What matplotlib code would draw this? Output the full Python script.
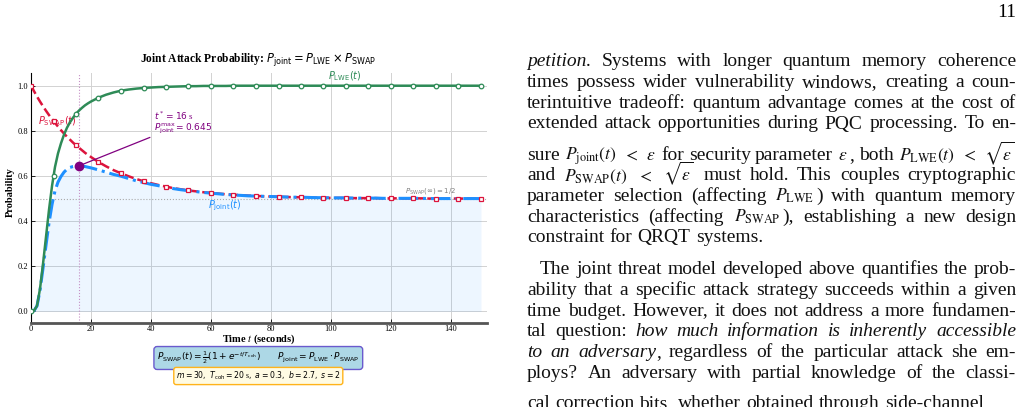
import re
import statistics
import matplotlib
matplotlib.use("Agg")
import matplotlib.pyplot as plt

# ---------------- data ----------------
t = [0, 1, 2, 3, 4, 5, 6, 7, 7.5, 8, 9, 10, 11, 12, 13, 14, 15, 16, 17, 18, 19, 20,
     22.5, 25, 27.5, 30, 32.5, 35, 37.5, 40, 42.5, 45, 47.5, 50, 52.5, 55, 57.5, 60,
     62.5, 65, 67.5, 70, 72.5, 75, 77.5, 80, 82.5, 85, 87.5, 90, 92.5, 95, 97.5, 100,
     102.5, 105, 107.5, 110, 112.5, 115, 117.5, 120, 122.5, 125, 127.5, 130, 132.5,
     135, 137.5, 140, 142.5, 145, 147.5, 150]

p_lwe = [0.0, 0.003, 0.025, 0.10, 0.21, 0.33, 0.45, 0.555, 0.598, 0.64, 0.70, 0.745,
         0.783, 0.814, 0.838, 0.858, 0.875, 0.89, 0.902, 0.913, 0.922, 0.93,
         0.947, 0.96, 0.97, 0.978, 0.983, 0.987, 0.990, 0.992, 0.994, 0.995, 0.996,
         0.997, 0.998, 0.998, 0.999, 0.999, 0.999, 0.999, 1.0, 1.0, 1.0, 1.0, 1.0, 1.0,
         1.0, 1.0, 1.0, 1.0, 1.0, 1.0, 1.0, 1.0, 1.0, 1.0, 1.0, 1.0, 1.0, 1.0, 1.0, 1.0,
         1.0, 1.0, 1.0, 1.0, 1.0, 1.0, 1.0, 1.0, 1.0, 1.0, 1.0, 1.0]

p_swap = [1.0, 0.976, 0.952, 0.930, 0.909, 0.889, 0.870, 0.852, 0.844, 0.835, 0.819,
          0.803, 0.788, 0.774, 0.761, 0.748, 0.736, 0.725, 0.714, 0.703, 0.693, 0.684,
          0.662, 0.643, 0.626, 0.612, 0.599, 0.587, 0.577, 0.568, 0.560, 0.553, 0.546,
          0.541, 0.536, 0.532, 0.528, 0.525, 0.522, 0.519, 0.517, 0.515, 0.513, 0.512,
          0.510, 0.509, 0.508, 0.507, 0.506, 0.506, 0.505, 0.504, 0.504, 0.503, 0.503,
          0.503, 0.502, 0.502, 0.502, 0.502, 0.501, 0.501, 0.501, 0.501, 0.501, 0.501,
          0.500, 0.500, 0.500, 0.500, 0.500, 0.500, 0.500, 0.500]

p_joint = [0.0, 0.003, 0.024, 0.093, 0.191, 0.293, 0.392, 0.473, 0.505, 0.534, 0.573,
           0.598, 0.617, 0.630, 0.638, 0.642, 0.644, 0.645, 0.644, 0.642, 0.639, 0.636,
           0.627, 0.617, 0.607, 0.599, 0.589, 0.579, 0.571, 0.563, 0.557, 0.550, 0.544,
           0.539, 0.535, 0.531, 0.527, 0.524, 0.521, 0.518, 0.516, 0.514, 0.512, 0.511,
           0.510, 0.509, 0.508, 0.507, 0.506, 0.506, 0.505, 0.504, 0.504, 0.503, 0.503,
           0.503, 0.502, 0.502, 0.502, 0.502, 0.501, 0.501, 0.501, 0.501, 0.501, 0.501,
           0.500, 0.500, 0.500, 0.500, 0.500, 0.500, 0.500, 0.500]

t_star = 16
p_star = 0.645
asymptote = 0.5
marker_step = 7.5

x_ticks = [0, 20, 40, 60, 80, 100, 120, 140]
y_ticks = [0.0, 0.2, 0.4, 0.6, 0.8, 1.0]

body_lines = [
    "*petition.* Systems with longer quantum memory coherence",
    "times possess wider vulnerability windows, creating a coun-",
    "terintuitive tradeoff: quantum advantage comes at the cost of",
    "extended attack opportunities during PQC processing. To en-",
    r"sure $P_{\rm joint}(t)$ $<$ $\epsilon$ for security parameter $\epsilon$, both $P_{\rm LWE}(t)$ $<$ $\sqrt{\epsilon}$",
    r"and $P_{\rm SWAP}(t)$ $<$ $\sqrt{\epsilon}$ must hold. This couples cryptographic",
    r"parameter selection (affecting $P_{\rm LWE}$) with quantum memory",
    r"characteristics (affecting $P_{\rm SWAP}$), establishing a new design",
    "constraint for QRQT systems.",
    "The joint threat model developed above quantifies the prob-",
    "ability that a specific attack strategy succeeds within a given",
    "time budget. However, it does not address a more fundamen-",
    "tal question: *how* *much* *information* *is* *inherently* *accessible*",
    "*to* *an* *adversary*, regardless of the particular attack she em-",
    "ploys? An adversary with partial knowledge of the classi-",
    "cal correction bits, whether obtained through side-channel",
]
para_last = {8, 15}      # lines that are not justified
para_first = {9}         # indented lines
line_baselines = [66, 87, 108, 128.5, 160, 180.5, 201, 222, 242.5,
                  274, 295, 315.5, 336, 357, 378, 408]

# ---------------- figure ----------------
plt.rcParams["font.family"] = ["Liberation Serif", "DejaVu Serif"]
plt.rcParams["mathtext.fontset"] = "dejavusans"

W, H = 1026, 407
fig = plt.figure(figsize=(W / 100, H / 100), dpi=100)


def fx(px):
    return px / W


def fy(py):
    return 1 - py / H


ax = fig.add_axes([fx(31), fy(322.7), (487 - 31) / W, (322.7 - 73.3) / H])
ax.set_xlim(0, 152)
ax.set_ylim(-0.05, 1.055)

mk = [i for i, v in enumerate(t) if abs(v / marker_step - round(v / marker_step)) < 1e-9]

C_LWE = "#2e8b57"
C_SWAP = "#dc143c"
C_JOINT = "#1e90ff"
C_PEAK = "#800080"

ax.fill_between(t, 0, p_joint, color=C_JOINT, alpha=0.08, lw=0, zorder=1)
ax.axhline(asymptote, color="#aaaaaa", lw=0.8, ls=":", zorder=1.5)
ax.axvline(t_star, color="#c58fc5", lw=0.8, ls=":", zorder=1.5)

ax.plot(t, p_swap, color=C_SWAP, lw=1.8, ls="--", zorder=3)
ax.plot(t, p_joint, color=C_JOINT, lw=2.2, ls="-.", zorder=3.5)
ax.plot([t[i] for i in mk], [p_swap[i] for i in mk], ls="none", marker="s", ms=3.3,
        mfc="white", mec=C_SWAP, mew=0.9, zorder=3.8)
ax.plot(t, p_lwe, color=C_LWE, lw=1.8, marker="o", ms=3.3, mfc="white", mec=C_LWE,
        mew=0.9, markevery=mk, zorder=4)
ax.plot([t_star], [p_star], marker="o", ms=6, color=C_PEAK, ls="none", zorder=6)

ax.set_xticks(x_ticks)
ax.set_yticks(y_ticks)
ax.set_yticklabels([f"{v:.1f}" for v in y_ticks])
ax.tick_params(direction="in", labelsize=6, length=3, width=0.6, pad=2)
ax.grid(True, color="#d2d2d2", lw=0.7)
ax.set_axisbelow(True)
for s in ("top", "right"):
    ax.spines[s].set_visible(False)
ax.spines["bottom"].set_color("#555555")
ax.spines["bottom"].set_linewidth(2.0)
ax.spines["left"].set_color("black")
ax.spines["left"].set_linewidth(0.8)

# curve labels
ax.text(104.7, 1.043, r"$P_{\rm LWE}(t)$", color=C_LWE, fontsize=7, ha="center", va="center")
ax.text(8.7, 0.844, r"$P_{\rm SWAP}(t)$", color=C_SWAP, fontsize=7, ha="center", va="center")
ax.text(64.7, 0.467, r"$P_{\rm joint}(t)$", color=C_JOINT, fontsize=7, ha="center", va="center")
ax.text(133.2, 0.533, r"$P_{\rm SWAP}(\infty)=1/2$", color="gray", fontsize=5,
        ha="center", va="center")

ax.annotate(r"$t^* = 16$ s" + "\n" + r"$P_{\rm joint}^{\max} = 0.645$",
            xy=(t_star, p_star), xytext=(41, 0.836), ha="left", va="center",
            fontsize=6.5, color=C_PEAK, linespacing=0.95,
            arrowprops=dict(arrowstyle="-", color=C_PEAK, lw=0.9, relpos=(0, 0),
                            shrinkA=1, shrinkB=3))

# title and axis labels
fig.text(fx(258), fy(60), r"Joint Attack Probability: $P_{\rm joint} = P_{\rm LWE} \times P_{\rm SWAP}$",
         ha="center", va="center", fontsize=8.3, fontweight="bold")
fig.text(fx(10), fy(192), "Probability", rotation=90, ha="center", va="center",
         fontsize=7.5, fontweight="bold")
fig.text(fx(259), fy(339.5), r"Time $t$ (seconds)", ha="center", va="center",
         fontsize=7.5, fontweight="bold", math_fontfamily="stix")

fig.text(fx(258.3), fy(358),
         r"$P_{\rm SWAP}(t) = \frac{1}{2}(1 + e^{-t/T_{\rm coh}})$" + "        "
         + r"$P_{\rm joint} = P_{\rm LWE} \cdot P_{\rm SWAP}$",
         ha="center", va="center", fontsize=6.5,
         bbox=dict(boxstyle="round,pad=0.35", fc="#add8e6", ec="#6a5acd", lw=1.0))
fig.text(fx(258.3), fy(376),
         r"$m = 30,\ T_{\rm coh} = 20$ s$,\ a = 0.3,\ b = 2.7,\ s = 2$",
         ha="center", va="center", fontsize=5.6,
         bbox=dict(boxstyle="round,pad=0.3", fc="#fffbe3", ec="#ffb31a", lw=1.0))

# ---------------- body text (justified) ----------------
BASE_SIZE = 12.4
LEFT, RIGHT = 527, 1016
MATH_SCALE = 0.9
MATH_PAD_L, MATH_PAD_R = 0.5, 2.0
renderer = fig.canvas.get_renderer()


def tokenize(line):
    toks, cur, inmath = [], "", False
    for ch in line:
        if ch == "$":
            inmath = not inmath
        if ch == " " and not inmath:
            if cur:
                toks.append(cur)
            cur = ""
        else:
            cur += ch
    if cur:
        toks.append(cur)
    return toks


def pieces(tok):
    out = []
    for m in re.finditer(r"(\$[^$]*\$)|(\*[^*]*\*)|([^$*]+)", tok):
        if m.group(1):
            out.append((m.group(1), "math"))
        elif m.group(2):
            out.append((m.group(2)[1:-1], "it"))
        else:
            out.append((m.group(3), "rm"))
    return out


def make(s, style, y, size):
    kw = dict(fontsize=size * (MATH_SCALE if style == "math" else 1.0), va="baseline",
              ha="left", color="#111111", math_fontfamily="stix")
    if style == "it":
        kw["fontstyle"] = "italic"
    return fig.text(0, fy(y), s, **kw)


def piece_box(tx, style):
    bb = tx.get_window_extent(renderer)
    if style == "math":
        return bb.width + MATH_PAD_L + MATH_PAD_R, bb.x0 - MATH_PAD_L
    return bb.width, bb.x0


# choose a body size so that justified lines get roughly natural spacing
ratios = []
for i, line in enumerate(body_lines):
    if i in para_last:
        continue
    toks = tokenize(line)
    words = 0.0
    for tok in toks:
        for s, st in pieces(tok):
            tx = make(s, st, 0, BASE_SIZE)
            words += piece_box(tx, st)[0]
            tx.remove()
    natural = words + (len(toks) - 1) * BASE_SIZE * 100 / 72 * 0.28
    ratios.append((RIGHT - LEFT - (13 if i in para_first else 0)) / natural)
BODY_SIZE = min(14.2, max(12.0, BASE_SIZE * statistics.median(ratios) * 0.97))

fig.text(fx(RIGHT), fy(17), "11", ha="right", va="baseline", fontsize=BODY_SIZE)

for i, line in enumerate(body_lines):
    y = line_baselines[i]
    x0 = LEFT + (13 if i in para_first else 0)
    toks = tokenize(line)
    objs = []
    for tok in toks:
        parts = []
        for s, st in pieces(tok):
            tx = make(s, st, y, BODY_SIZE)
            w, off = piece_box(tx, st)
            parts.append((tx, w, off))
        objs.append(parts)
    widths = [sum(w for _, w, _ in p) for p in objs]
    if i in para_last:
        gap = BODY_SIZE * 100 / 72 * 0.27
    else:
        gap = (RIGHT - x0 - sum(widths)) / max(len(toks) - 1, 1)
    x = x0
    for parts, w in zip(objs, widths):
        xx = x
        for tx, pw, off in parts:
            tx.set_x(fx(xx - off))
            xx += pw
        x += w + gap

fig.savefig("out.png", dpi=100)
